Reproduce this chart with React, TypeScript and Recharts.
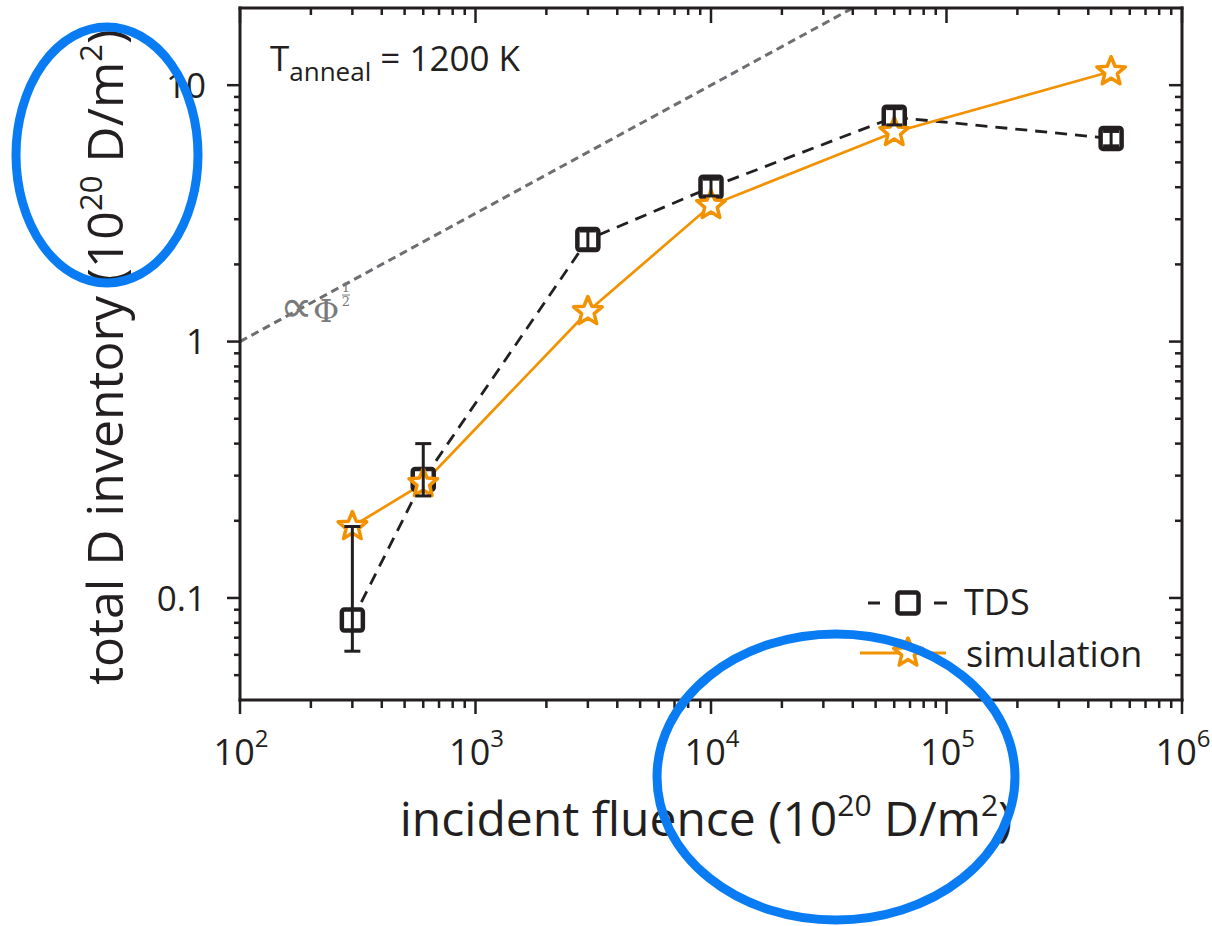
import React from 'react';
import { ComposedChart, Line, Scatter, XAxis, YAxis, ErrorBar, Legend } from 'recharts';

// ---- data ----
const fluence = [300, 600, 3000, 10000, 60000, 500000];
const tdsInventory = [0.082, 0.29, 2.5, 4.0, 7.5, 6.2];
const tdsLow = [0.062, 0.25, 2.3, 3.7, 7.0, 5.8];
const tdsHigh = [0.19, 0.4, 2.7, 4.3, 8.1, 6.6];
const simInventory = [0.19, 0.28, 1.31, 3.4, 6.55, 11.3];
const guideFluence = [100, 40000];
const guideInventory = [1, 20];

const xDomain = [100, 1000000];
const yDomain = [0.04, 20];
const xDecades = [100, 1000, 10000, 100000, 1000000];
const yDecades = [0.01, 0.1, 1, 10];
const minorMultipliers = [2, 3, 4, 5, 6, 7, 8, 9];
const yTickLabels: Record<string, string> = { '-1': '0.1', '0': '1', '1': '10' };

// ---- derived tables ----
const tdsData = fluence.map((x, i) => ({
  x,
  y: tdsInventory[i],
  err: [tdsInventory[i] - tdsLow[i], tdsHigh[i] - tdsInventory[i]],
}));
const simData = fluence.map((x, i) => ({ x, y: simInventory[i] }));
const guideData = guideFluence.map((x, i) => ({ x, y: guideInventory[i] }));

const buildTicks = (decades: number[], lo: number, hi: number) => {
  const out: number[] = [];
  decades.forEach((d) => {
    if (d >= lo && d <= hi) out.push(d);
    minorMultipliers.forEach((m) => {
      const v = d * m;
      if (v > lo && v < hi) out.push(v);
    });
  });
  return out.sort((a, b) => a - b);
};
const xTicks = buildTicks(xDecades, xDomain[0], xDomain[1]);
const yTicks = buildTicks(yDecades, yDomain[0] + 1e-9, yDomain[1]);

const INK = '#231f20';
const ORANGE = '#f39200';
const GRAY = '#6d6e71';
const BLUE = '#0a7cf3';
const FONT = '"Open Sans", "Noto Sans", sans-serif';
const SERIF = '"DejaVu Serif", "Liberation Serif", serif';

const isMajor = (v: number) => Math.abs(Math.log10(v) - Math.round(Math.log10(v))) < 1e-6;
const expOf = (v: number) => Math.round(Math.log10(v));

const axisLineStyle = { stroke: INK, strokeWidth: 3, strokeLinecap: 'square' as const };

function BottomTick(props: any) {
  const { x, y, payload } = props;
  const v = payload.value;
  const major = isMajor(v);
  return (
    <g>
      <line x1={x} y1={y} x2={x} y2={y + (major ? 14 : 8)} stroke={INK} strokeWidth={2.5} />
      {major && (
        <text x={x + 1} y={y + 65} textAnchor="middle" fontSize={36} fill={INK} fontFamily={FONT}>
          10
          <tspan dy={-18} fontSize={24}>{expOf(v)}</tspan>
        </text>
      )}
    </g>
  );
}

function TopTick(props: any) {
  const { x, y, payload } = props;
  const major = isMajor(payload.value);
  return <line x1={x} y1={y} x2={x} y2={y + (major ? 15 : 7)} stroke={INK} strokeWidth={2.5} />;
}

function LeftTick(props: any) {
  const { x, y, payload } = props;
  const v = payload.value;
  const major = isMajor(v);
  return (
    <g>
      <line x1={x} y1={y} x2={x - (major ? 13 : 6)} y2={y} stroke={INK} strokeWidth={2.5} />
      {major && (
        <text x={x - 34} y={y} dy="0.36em" textAnchor="end" fontSize={35} fill={INK} fontFamily={FONT}>
          {yTickLabels[String(expOf(v))]}
        </text>
      )}
    </g>
  );
}

function RightTick(props: any) {
  const { x, y, payload } = props;
  const major = isMajor(payload.value);
  return <line x1={x} y1={y} x2={x - (major ? 13 : 7)} y2={y} stroke={INK} strokeWidth={2.5} />;
}

function XTitle(props: any) {
  const vb = props.viewBox || { x: 240, y: 700, width: 942, height: 80 };
  const cx = vb.x + vb.width / 2 - 5;
  const by = vb.y + 136;
  return (
    <text x={cx} y={by} textAnchor="middle" fontSize={48} fill={INK} fontFamily={FONT}>
      incident fluence (10
      <tspan dy={-20} fontSize={30}>20</tspan>
      <tspan dy={20}>{'\u00a0D/m'}</tspan>
      <tspan dy={-20} fontSize={30}>2</tspan>
      <tspan dy={20}>)</tspan>
    </text>
  );
}

function YTitle(props: any) {
  const vb = props.viewBox || { x: 140, y: 8, width: 100, height: 692 };
  const tx = vb.x + vb.width - 117;
  const ty = vb.y + vb.height / 2 + 3;
  return (
    <text x={tx} y={ty} transform={`rotate(-90 ${tx} ${ty})`} textAnchor="middle" fontSize={50} fill={INK} fontFamily={FONT}>
      total D inventory (10
      <tspan dy={-21} fontSize={31}>20</tspan>
      <tspan dy={21}>{'\u00a0D/m'}</tspan>
      <tspan dy={-21} fontSize={31}>2</tspan>
      <tspan dy={21}>)</tspan>
    </text>
  );
}

function starPath(cx: number, cy: number, R: number, r: number) {
  let d = '';
  for (let k = 0; k < 10; k++) {
    const rad = k % 2 === 0 ? R : r;
    const a = -Math.PI / 2 + (k * Math.PI) / 5;
    d += (k ? 'L' : 'M') + (cx + rad * Math.cos(a)).toFixed(2) + ',' + (cy + rad * Math.sin(a)).toFixed(2);
  }
  return d + 'Z';
}

function Star({ cx, cy }: { cx: number; cy: number }) {
  return <path d={starPath(cx, cy, 15, 6.6)} fill="#fff" stroke={ORANGE} strokeWidth={3.5} strokeLinejoin="round" />;
}

function Square({ cx, cy }: { cx: number; cy: number }) {
  return <rect x={cx - 10.5} y={cy - 10.5} width={21} height={21} rx={2.5} fill="#fff" stroke={INK} strokeWidth={4.5} />;
}

const markerFor: Record<string, string> = { TDS: 'square', simulation: 'star' };

function LegendContent(props: any) {
  const payload = (props.payload || []).filter((p: any) => markerFor[p.value]);
  return (
    <svg width={320} height={110} style={{ display: 'block', overflow: 'visible' }}>
      {payload.map((p: any, i: number) => {
        const cy = 28 + i * 50;
        if (markerFor[p.value] === 'square') {
          return (
            <g key={p.value}>
              <line x1={13} y1={cy} x2={25} y2={cy} stroke={INK} strokeWidth={3} />
              <line x1={79} y1={cy} x2={92} y2={cy} stroke={INK} strokeWidth={3} />
              <Square cx={53} cy={cy} />
              <text x={109} y={cy + 12} fontSize={36} fill={INK} fontFamily={FONT}>{p.value}</text>
            </g>
          );
        }
        return (
          <g key={p.value}>
            <line x1={5} y1={cy} x2={91} y2={cy} stroke={ORANGE} strokeWidth={3} />
            <Star cx={53} cy={cy} />
            <text x={111} y={cy + 14} fontSize={36} fill={INK} fontFamily={FONT}>{p.value}</text>
          </g>
        );
      })}
    </svg>
  );
}

export default function App() {
  return (
    <div style={{ position: 'absolute', left: 0, top: 0, width: 1212, height: 926, background: '#fff', fontFamily: FONT }}>
      <ComposedChart width={1212} height={926} margin={{ top: 7, right: 29, bottom: 146, left: 140 }}>
        <XAxis
          xAxisId="b"
          dataKey="x"
          type="number"
          scale="log"
          domain={xDomain}
          allowDataOverflow
          ticks={xTicks}
          interval={0}
          tickSize={0}
          tickMargin={0}
          tickLine={false}
          tick={(p: any) => <BottomTick {...p} />}
          axisLine={axisLineStyle}
          height={80}
          label={<XTitle />}
        />
        <XAxis
          xAxisId="t"
          dataKey="x"
          orientation="top"
          type="number"
          scale="log"
          domain={xDomain}
          allowDataOverflow
          ticks={xTicks}
          interval={0}
          tickSize={0}
          tickMargin={0}
          tickLine={false}
          tick={(p: any) => <TopTick {...p} />}
          axisLine={axisLineStyle}
          height={1}
        />
        <YAxis
          yAxisId="l"
          dataKey="y"
          type="number"
          scale="log"
          domain={yDomain}
          allowDataOverflow
          ticks={yTicks}
          interval={0}
          tickSize={0}
          tickMargin={0}
          tickLine={false}
          tick={(p: any) => <LeftTick {...p} />}
          axisLine={axisLineStyle}
          width={100}
          label={<YTitle />}
        />
        <YAxis
          yAxisId="r"
          dataKey="y"
          orientation="right"
          type="number"
          scale="log"
          domain={yDomain}
          allowDataOverflow
          ticks={yTicks}
          interval={0}
          tickSize={0}
          tickMargin={0}
          tickLine={false}
          tick={(p: any) => <RightTick {...p} />}
          axisLine={axisLineStyle}
          width={1}
        />
        <Legend
          layout="vertical"
          align="center"
          verticalAlign="middle"
          content={(p: any) => <LegendContent {...p} />}
          wrapperStyle={{ position: 'absolute', left: 855, top: 575, width: 320, height: 110 }}
        />
        <Line
          xAxisId="b"
          yAxisId="l"
          data={guideData}
          dataKey="y"
          name="guide"
          stroke={GRAY}
          strokeWidth={3}
          strokeDasharray="8 5"
          dot={false}
          activeDot={false}
          legendType="none"
          isAnimationActive={false}
        />
        <Line
          xAxisId="b"
          yAxisId="l"
          data={tdsData}
          dataKey="y"
          name="TDS"
          stroke={INK}
          strokeWidth={2.8}
          strokeDasharray="12 8"
          dot={(p: any) => <Square key={'sq' + p.index} cx={p.cx} cy={p.cy} />}
          activeDot={false}
          isAnimationActive={false}
        />
        <Line
          xAxisId="b"
          yAxisId="l"
          data={simData}
          dataKey="y"
          name="simulation"
          stroke={ORANGE}
          strokeWidth={2.7}
          dot={(p: any) => <Star key={'st' + p.index} cx={p.cx} cy={p.cy} />}
          activeDot={false}
          isAnimationActive={false}
        />
        <Scatter
          xAxisId="b"
          yAxisId="l"
          data={tdsData}
          dataKey="y"
          name="TDS error"
          legendType="none"
          shape={() => <g />}
          isAnimationActive={false}
          {...({ zIndex: 1500 } as any)}
        >
          <ErrorBar
            dataKey="err"
            direction="y"
            width={8}
            stroke={INK}
            strokeWidth={3}
            isAnimationActive={false}
            {...({ zIndex: 1500 } as any)}
          />
        </Scatter>
      </ComposedChart>
      <svg
        width={1212}
        height={926}
        style={{ position: 'absolute', left: 0, top: 0, pointerEvents: 'none', zIndex: 5 }}
      >
        <text x={270} y={71} fontSize={35} fill={INK} fontFamily={FONT}>
          T
          <tspan dy={10} fontSize={26}>anneal</tspan>
          <tspan dy={-10}>{'\u00a0= 1200 K'}</tspan>
        </text>
        <text x={280} y={322} fontSize={32} fill="#7a7a7a" fontFamily={SERIF}>
          <tspan fontSize={46} fontFamily='"DejaVu Sans", sans-serif'>∝</tspan>
          <tspan>Φ</tspan>
        </text>
        <text x={346} y={292} fontSize={13} fill="#7a7a7a" textAnchor="middle" fontFamily={SERIF}>1</text>
        <line x1={342} y1={295} x2={350} y2={295} stroke="#7a7a7a" strokeWidth={1} />
        <text x={346} y={306} fontSize={13} fill="#7a7a7a" textAnchor="middle" fontFamily={SERIF}>2</text>
        <ellipse cx={107} cy={155} rx={91} ry={128} fill="none" stroke={BLUE} strokeWidth={9} />
        <ellipse cx={836} cy={777} rx={179} ry={143} fill="none" stroke={BLUE} strokeWidth={9} />
      </svg>
    </div>
  );
}
